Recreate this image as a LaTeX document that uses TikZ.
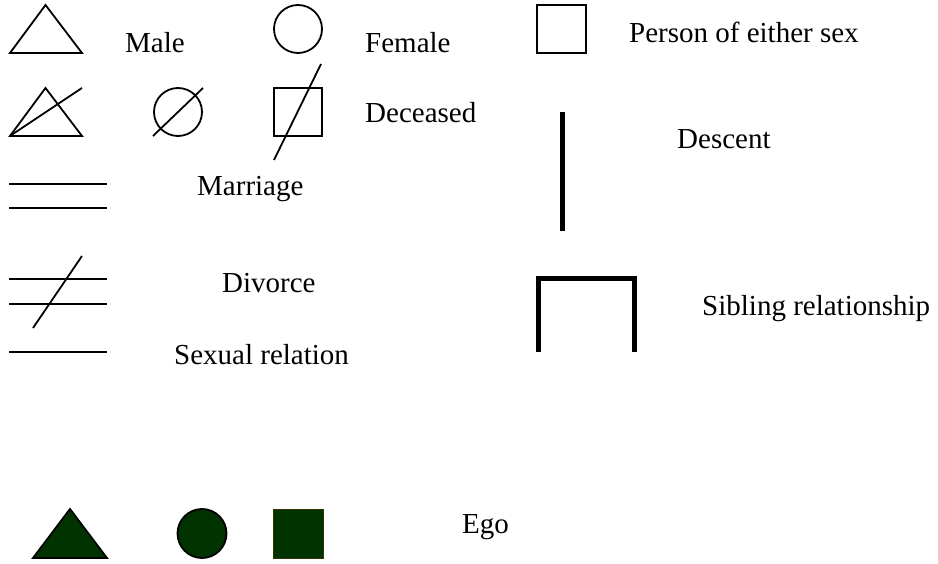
\documentclass[tikz,border=0pt]{standalone}
\usepackage{fontspec}
\setmainfont{Liberation Serif}
\definecolor{egogreen}{HTML}{003300}
\definecolor{egoedge}{HTML}{333300}
\begin{document}
\begin{tikzpicture}[x=1pt,y=-1pt,
  thin line/.style={draw=black,line width=1.8pt},
  thick line/.style={draw=black,line width=5pt},
  lbl/.style={anchor=base west,inner sep=0pt,font=\fontsize{29}{34}\selectfont},
  egoshape/.style={fill=egogreen,draw=black,line width=1.8pt}]
\useasboundingbox (0,0) rectangle (938,564);
% row 1
\draw[thin line,line join=miter] (10,53) -- (45.5,5) -- (82,53) -- cycle;
\node[lbl] (male) at (125,53) {Male};
\draw[thin line] (298,29) circle (24);
\node[lbl] (female) at (365,53) {Female};
\draw[thin line] (537,5) rectangle (586,53);
\node[lbl] (person) at (629,43) {Person of either sex};
% row 2 deceased
\draw[thin line] (10,136) -- (45.5,88) -- (82,136) -- cycle;
\draw[thin line] (10,136) -- (82,88);
\draw[thin line] (178,112) circle (24);
\draw[thin line] (153,136) -- (203,88);
\draw[thin line] (274,88) rectangle (322,136);
\draw[thin line] (274,160) -- (321,64);
\node[lbl] (deceased) at (365,123) {Deceased};
% descent
\draw[thick line] (562,112) -- (562,231);
\node[lbl] (descent) at (677,149) {Descent};
% marriage
\draw[thin line] (9,184) -- (107,184);
\draw[thin line] (9,208) -- (107,208);
\node[lbl] (marriage) at (197,196) {Marriage};
% divorce
\draw[thin line] (9,279) -- (107,279);
\draw[thin line] (9,304) -- (107,304);
\draw[thin line] (33,328) -- (82,256);
\node[lbl] (divorce) at (222,293) {Divorce};
% sibling
\draw[thick line,line join=miter] (538,352) -- (538,279) -- (634,279) -- (634,352);
\node[lbl] (sibling) at (702,316) {Sibling relationship};
% sexual relation
\draw[thin line] (9,352) -- (107,352);
\node[lbl] (sexual) at (174,364) {Sexual relation};
% ego
\draw[egoshape] (33,558) -- (70,509) -- (107,558) -- cycle;
\draw[egoshape] (202,533.5) circle (24.5);
\draw[fill=egogreen,draw=egoedge,line width=1pt] (273,509) rectangle (323,558);
\node[lbl] (ego) at (462,533) {Ego};
\end{tikzpicture}
\end{document}
